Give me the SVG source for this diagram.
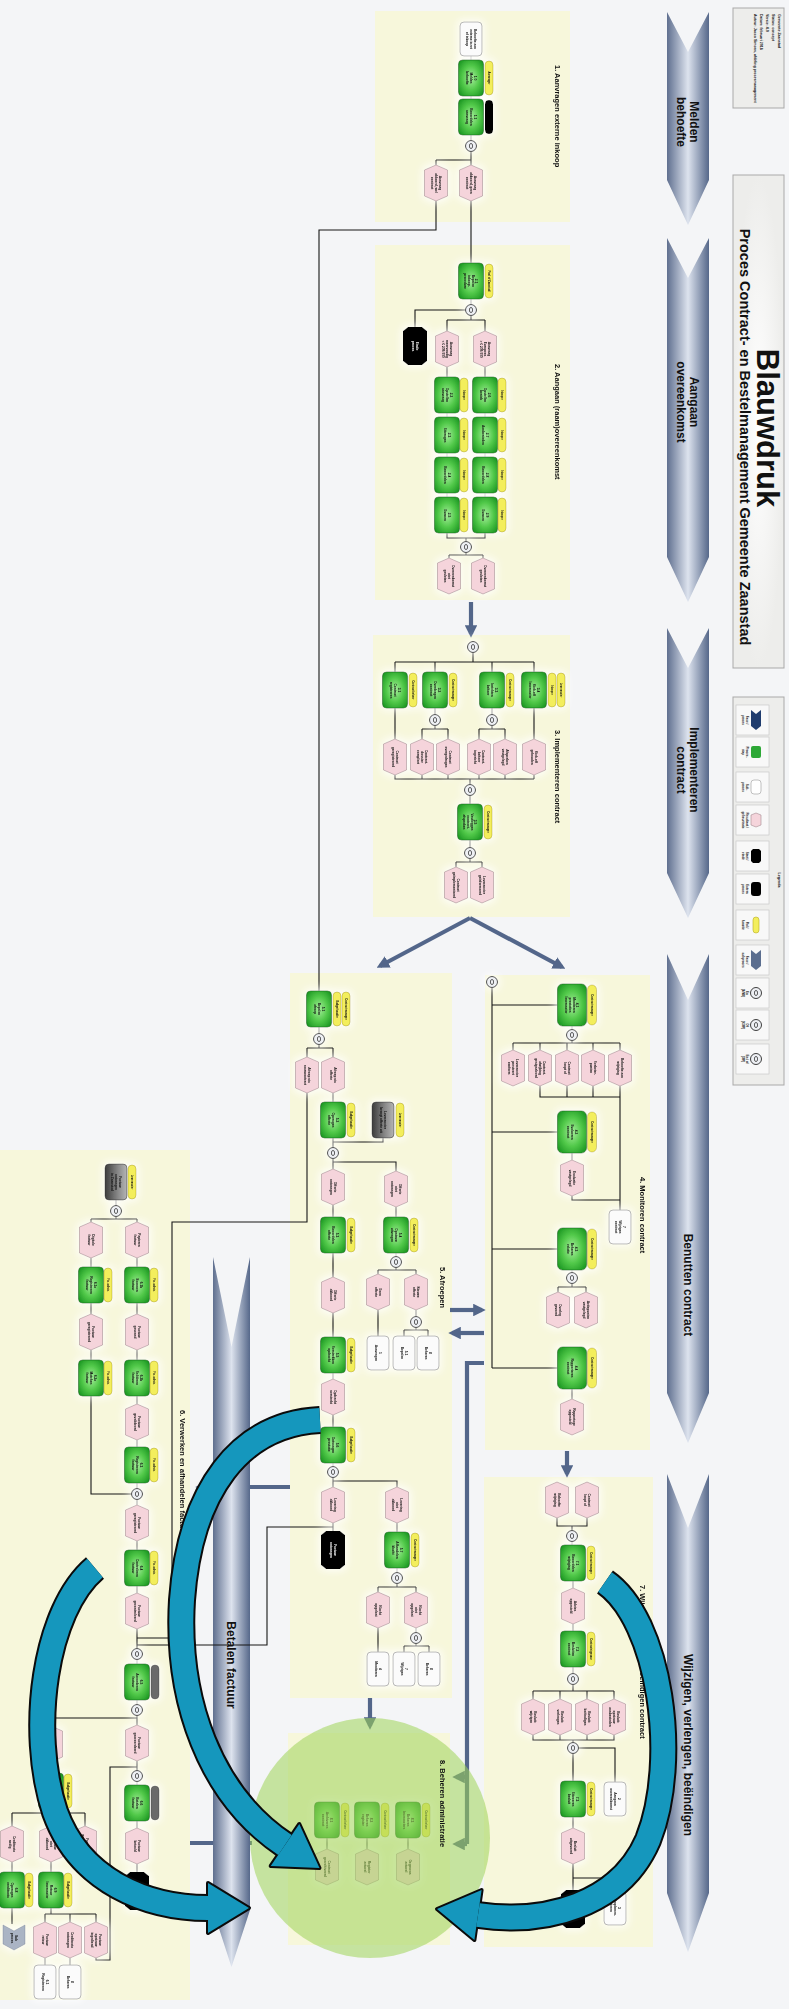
<svg xmlns="http://www.w3.org/2000/svg" width="789" height="2009" viewBox="0 0 789 2009">
<style>
.sec{fill:#f7f7db}
.g{fill:url(#grn);stroke:#1d7f22;stroke-width:.8}
.y{fill:#f3ee5c;stroke:#b9ad1e;stroke-width:.6}
.p{fill:#f5d4db;stroke:#a58a90;stroke-width:.6}
.w{fill:#fbfbfb;stroke:#888;stroke-width:.6}
.b{fill:#050505}
.c{fill:#eef0f4;stroke:#2a2a2a;stroke-width:.9}
.ln{fill:none;stroke:#161616;stroke-width:1.1}
.th{fill:none;stroke:#53668a;stroke-width:4.2}
.nt{font-family:'Liberation Sans',Arial,sans-serif;font-size:3.2px;font-weight:700;text-anchor:middle;fill:#111}
.rt{font-family:'Liberation Sans',Arial,sans-serif;font-size:2.6px;font-weight:700;text-anchor:middle;fill:#111}
.wt{fill:#fff}
.st{font-family:'Liberation Sans',Arial,sans-serif;font-size:7.5px;font-weight:700;fill:#111}
.ph{font-family:'Liberation Sans',Arial,sans-serif;font-size:12px;font-weight:700;text-anchor:middle;fill:#111}
.chev{fill:url(#chev)}
.box{fill:#ededeb;stroke:#a9a9a9;stroke-width:1}
.cell{fill:#f8f8f8;stroke:#c4c4c4;stroke-width:.6}
.lt{font-family:'Liberation Sans',Arial,sans-serif;font-size:3px;font-weight:700;text-anchor:middle;fill:#111}
.it{font-family:'Liberation Sans',Arial,sans-serif;font-size:3.6px;font-weight:700;fill:#111}
.tb{fill:none;stroke:#0b0b0b;stroke-width:28}
.tt{fill:none;stroke:#1597bd;stroke-width:24}
</style>
<defs>
<linearGradient id="chev" x1="0" y1="0" x2="1" y2="0"><stop offset="0" stop-color="#5f6f8f"/><stop offset=".5" stop-color="#dde3ee"/><stop offset="1" stop-color="#56688a"/></linearGradient>
<radialGradient id="grn" cx=".5" cy=".5" r=".62"><stop offset="0" stop-color="#a6ee9c"/><stop offset=".55" stop-color="#52c94a"/><stop offset="1" stop-color="#1f9a24"/></radialGradient>
<linearGradient id="gry" x1="0" y1="0" x2="1" y2="0"><stop offset="0" stop-color="#3c3c3c"/><stop offset=".6" stop-color="#8a8a8a"/><stop offset="1" stop-color="#b5b5b5"/></linearGradient>
<radialGradient id="tglow" cx=".5" cy=".5" r=".5"><stop offset="0" stop-color="#ffffff"/><stop offset="1" stop-color="#ededeb"/></radialGradient>
<filter id="glow" x="-3%" y="-2%" width="106%" height="104%">
<feMorphology in="SourceAlpha" operator="dilate" radius="2" result="d"/>
<feGaussianBlur in="d" stdDeviation="4" result="bl"/>
<feFlood flood-color="#ffffff" flood-opacity=".85"/>
<feComposite in2="bl" operator="in" result="gl"/>
<feMerge><feMergeNode in="gl"/><feMergeNode in="SourceGraphic"/></feMerge>
</filter>
<marker id="ah" viewBox="0 0 10 10" refX="7" refY="5" markerWidth="3" markerHeight="3" orient="auto"><path d="M0,0L10,5L0,10z" fill="#53668a"/></marker>
<rect id="G" x="-12.5" y="-18" width="25" height="36" rx="4" class="g"/>
<rect id="GL" x="-14.5" y="-21" width="29" height="42" rx="5" class="g"/>
<rect id="Y" x="-4" y="-17" width="8" height="34" rx="4" class="y"/>
<rect id="YL" x="-4.5" y="-20" width="9" height="40" rx="4.5" class="y"/>
<polygon id="P" points="-11.5,-13 0,-18 11.5,-13 11.5,13 0,18 -11.5,13" class="p"/>
<rect id="W" x="-11" y="-17" width="22" height="34" rx="4" class="w"/>
<polygon id="B" points="-12,-15 -7,-19 7,-19 12,-15 12,15 7,19 -7,19 -12,15" class="b"/>
<rect id="BP" x="-4" y="-17" width="8" height="34" rx="4" fill="#000"/>
<rect id="GR" x="-11" y="-18" width="22" height="36" rx="4" fill="url(#gry)" stroke="#333" stroke-width=".6"/>
<rect id="GP" x="-4" y="-17" width="8" height="34" rx="4" fill="#6b6b6b" stroke="#444" stroke-width=".5"/>
<g id="C"><circle r="5.5" class="c"/><ellipse rx="1.6" ry="2.6" fill="none" stroke="#222" stroke-width=".7"/></g>
</defs>

<rect width="789" height="2009" fill="#f4f5f7"/>

<g id="sections">
<rect class="sec" x="375" y="11" width="195" height="211"/>
<rect class="sec" x="375" y="245" width="195" height="355"/>
<rect class="sec" x="373" y="635" width="197" height="282"/>
<rect class="sec" x="485" y="975" width="165" height="475"/>
<rect class="sec" x="290" y="973" width="162" height="725"/>
<rect class="sec" x="0" y="1150" width="190" height="850"/>
<rect class="sec" x="484" y="1477" width="169" height="470"/>
<rect class="sec" x="288" y="1733" width="162" height="212"/>
</g>

<g id="info">
<rect class="box" x="733" y="8" width="51" height="100"/>
<text class="it" transform="translate(778 14) rotate(90)">Gemeente Zaanstad</text>
<text class="it" transform="translate(772 14) rotate(90)">Status: concept</text>
<text class="it" transform="translate(766 14) rotate(90)">Versie: 4.0</text>
<text class="it" transform="translate(760 14) rotate(90)">Datum: februari 2016</text>
<text class="it" transform="translate(754 14) rotate(90)">Auteur: Jacco Simons, afdeling procesmanagement</text>
</g>

<g id="title">
<rect x="733" y="175" width="51" height="493" fill="url(#tglow)" stroke="#a9a9a9" stroke-width="1"/>
<text transform="translate(757 428) rotate(90)" font-family="'Liberation Sans',Arial,sans-serif" font-size="31" font-weight="700" text-anchor="middle" fill="#111">Blauwdruk</text>
<text transform="translate(740 437) rotate(90)" font-family="'Liberation Sans',Arial,sans-serif" font-size="14.5" font-weight="700" text-anchor="middle" fill="#111">Proces Contract- en Bestelmanagement Gemeente Zaanstad</text>
</g>

<g id="legend">
<rect class="box" x="733" y="697" width="51" height="388"/>
<text class="lt" transform="translate(778 880) rotate(90)" style="font-size:3.6px">Legenda</text>
<rect class="cell" x="736" y="705" width="33" height="30"/><polygon points="751,710 756,714 761,710 761,726 756,730 751,726" fill="#1f3c6e"/><text class="lt" transform="translate(744 720) rotate(90)"><tspan x="0" y="-1.5">Fase /</tspan><tspan x="0" y="2.5">proces</tspan></text>
<rect class="cell" x="736" y="737" width="33" height="30"/><rect x="751" y="746" width="10" height="12" rx="2" fill="#2da836"/><text class="lt" transform="translate(744 752) rotate(90)"><tspan x="0" y="-1.5">Proces-</tspan><tspan x="0" y="2.5">stap</tspan></text>
<rect class="cell" x="736" y="772" width="33" height="30"/><rect x="751" y="780" width="10" height="14" rx="3" fill="#fff" stroke="#999" stroke-width=".6"/><text class="lt" transform="translate(744 787) rotate(90)"><tspan x="0" y="-1.5">Sub-</tspan><tspan x="0" y="2.5">proces</tspan></text>
<rect class="cell" x="736" y="805" width="33" height="30"/><polygon points="751,815 756,813 761,815 761,825 756,827 751,825" fill="#f5d4db" stroke="#a58a90" stroke-width=".6"/><text class="lt" transform="translate(744 820) rotate(90)"><tspan x="0" y="-1.5">Resultaat /</tspan><tspan x="0" y="2.5">gebeurtenis</tspan></text>
<rect class="cell" x="736" y="841" width="33" height="30"/><polygon points="751,851 753,849 759,849 761,851 761,861 759,863 753,863 751,861" fill="#000"/><text class="lt" transform="translate(744 856) rotate(90)"><tspan x="0" y="-1.5">Start /</tspan><tspan x="0" y="2.5">einde</tspan></text>
<rect class="cell" x="736" y="874" width="33" height="30"/><rect x="751" y="882" width="10" height="14" rx="3" fill="#000"/><text class="lt" transform="translate(744 889) rotate(90)"><tspan x="0" y="-1.5">Extern</tspan><tspan x="0" y="2.5">proces</tspan></text>
<rect class="cell" x="736" y="910" width="33" height="30"/><rect x="753" y="917" width="6" height="16" rx="3" class="y"/><text class="lt" transform="translate(744 925) rotate(90)"><tspan x="0" y="-1.5">Rol /</tspan><tspan x="0" y="2.5">functie</tspan></text>
<rect class="cell" x="736" y="945" width="33" height="30"/><polygon points="751,950 756,954 761,950 761,966 756,970 751,966" fill="#5b6e8f"/><text class="lt" transform="translate(744 960) rotate(90)"><tspan x="0" y="-1.5">Fase /</tspan><tspan x="0" y="2.5">subproces</tspan></text>
<rect class="cell" x="736" y="978" width="33" height="30"/><use href="#C" x="756" y="993"/><text class="lt" transform="translate(744 993) rotate(90)"><tspan x="0" y="-1.5">En</tspan><tspan x="0" y="2.5">(AND)</tspan></text>
<rect class="cell" x="736" y="1010" width="33" height="30"/><use href="#C" x="756" y="1025"/><text class="lt" transform="translate(744 1025) rotate(90)"><tspan x="0" y="-1.5">Of</tspan><tspan x="0" y="2.5">(XOR)</tspan></text>
<rect class="cell" x="736" y="1044" width="33" height="30"/><use href="#C" x="756" y="1059"/><text class="lt" transform="translate(744 1059) rotate(90)"><tspan x="0" y="-1.5">En / of</tspan><tspan x="0" y="2.5">(OR)</tspan></text>
</g>

<g id="phases">
<g id="ph1"><polygon class="chev" points="667,12 688,52 709,12 709,180 688,225 667,180"/><text class="ph" transform="translate(688 122) rotate(90)"><tspan x="0" y="-2">Melden</tspan><tspan x="0" y="11">behoefte</tspan></text></g>
<g id="ph2"><polygon class="chev" points="667,238 688,278 709,238 709,557 688,602 667,557"/><text class="ph" transform="translate(688 402) rotate(90)"><tspan x="0" y="-2">Aangaan</tspan><tspan x="0" y="11">overeenkomst</tspan></text></g>
<g id="ph3"><polygon class="chev" points="667,628 688,668 709,628 709,873 688,918 667,873"/><text class="ph" transform="translate(688 770) rotate(90)"><tspan x="0" y="-2">Implementeren</tspan><tspan x="0" y="11">contract</tspan></text></g>
<g id="ph4"><polygon class="chev" points="667,954 688,1000 709,954 709,1393 688,1443 667,1393"/><text class="ph" transform="translate(688 1285) rotate(90)" y="4.5">Benutten contract</text></g>
<g id="ph5"><polygon class="chev" points="667,1474 688,1528 709,1474 709,1893 688,1952 667,1893"/><text class="ph" transform="translate(688 1745) rotate(90)" y="4.5">Wijzigen, verlengen, beëindigen</text></g>
</g>

<g id="thick-connectors" class="th">
<path d="M471,602V634" marker-end="url(#ah)"/>
<path d="M470,918L380,966" marker-end="url(#ah)"/>
<path d="M470,918L562,967" marker-end="url(#ah)"/>
<path d="M567,1451V1474" marker-end="url(#ah)"/>
<path d="M450,1310H482" marker-end="url(#ah)"/>
<path d="M484,1333H452" marker-end="url(#ah)"/>
<path d="M484,1363H467V1844"/>
<path d="M467,1777H456" marker-end="url(#ah)"/>
<path d="M467,1844H456" marker-end="url(#ah)"/>
<path d="M370,1698V1726" marker-end="url(#ah)"/>
<path d="M290,1487H199" marker-end="url(#ah)"/>
<path d="M190,1843H252"/>
</g>

<g id="ph6"><polygon class="chev" points="213,1257 231.5,1347 250,1257 250,1910 231.5,1967 213,1910"/><text class="ph" transform="translate(231.5 1665) rotate(90)" y="4.5">Betalen factuur</text></g>

<g id="connectors" class="ln">
<path d="M471,56V60M471,96V99M471,135V140.5M471,151.5V160M436,160H471M436,160V165M471,160V165M471,201V263M436,201V230H319V991"/>
<path d="M471,299V304.5M465.5,310H415V327M471,315.5V320M447,320H485M447,320V331M485,320V331M447,367V377M447,413V417M447,453V457M447,493V497M485,367V377M485,413V417M485,453V457M485,493V497M447,533V538H485V533M466,538V541.5M466,552.5V555M449,555H483M449,555V558M483,555V558"/>
<path d="M473,652.5V662M395,662H534M395,662V672M435,662V672M492,662V672M534,662V672M395,708V739M435,708V714.5M435,725.5V729M422,729H448M422,729V739M448,729V739M492,708V714.5M492,725.5V729M479,729H505M479,729V739M505,729V739M534,708V739M395,775V779H534M422,775V779M448,775V779M479,775V779M505,775V779M534,775V779M470,779V784.5M470,795.5V804M470,840V847.5M470,858.5V862M456,862H482M456,862V867M482,862V867"/>
<path d="M492,987.5V1368M492,1005H557.5M492,1132H557.5M492,1249H557.5M492,1368H557.5M572,1026V1029.5M572,1040.5V1043M513,1043H620M513,1043V1050M540,1043V1050M567,1043V1050M593,1043V1050M620,1043V1050M540,1086V1097H620M567,1086V1097M593,1086V1097M620,1086V1210M572,1153V1160M572,1196V1200H620M572,1270V1272.5M572,1283.5V1287M558,1287H586M558,1287V1292M586,1287V1292M572,1389V1399"/>
<path d="M319,1027V1033.5M319,1044.5V1048M307,1048H333M307,1048V1057M333,1048V1057M307,1093V1222H172V1638H137M333,1093V1102M383,1138V1142H333M333,1138V1147.5M333,1158.5V1162H396V1171M333,1162V1169M333,1205V1217M396,1207V1217M396,1253V1256.5M396,1267.5V1270M378,1270H416M378,1270V1274M416,1270V1274M378,1310V1336M416,1310V1316.5M416,1327.5V1330M404,1330H428M404,1330V1336M428,1330V1336M333,1253V1277M333,1313V1337M333,1373V1379M333,1415V1427M333,1463V1466.5M333,1477.5V1481H397V1487M333,1481V1487M333,1523V1532M333,1527H267V1645H137M397,1523V1532M397,1568V1572.5M397,1583.5V1587M378,1587H416M378,1587V1592M416,1587V1592M378,1628V1652M416,1628V1632.5M416,1643.5V1646M404,1646H429M404,1646V1652M429,1646V1652"/>
<path d="M116,1200V1205.5M116,1216.5V1219M91,1219H137M91,1219V1222M137,1219V1222M91,1258V1267M91,1303V1314M91,1350V1360M91,1396V1494H131.5M137,1258V1267M137,1303V1314M137,1350V1360M137,1396V1404M137,1440V1447M137,1483V1488.5M137,1499.5V1505M137,1541V1550M137,1586V1593M137,1629V1648.5M137,1659.5V1664M137,1700V1704.5M137,1715.5V1725M137,1761V1770.5M137,1781.5V1785M137,1821V1828M137,1864V1872M137,1718H51V1726M51,1762V1773M51,1809V1813M12,1813H85M12,1813V1826M51,1813V1826M85,1813V1826M137,1767H110V1960H96V1958M85,1862V1868H110M12,1862V1872M12,1908V1924M51,1862V1872M51,1908V1914M45,1914H96M45,1914V1922M70,1914V1922M96,1914V1922M45,1958V1965M70,1958V1965"/>
<path d="M557,1518V1526H587V1518M572,1526V1530.5M572,1541.5V1545M573,1581V1588M573,1624V1631M573,1667V1673.5M573,1684.5V1691M533,1691H614M533,1691V1699M560,1691V1699M587,1691V1699M614,1691V1699M533,1735V1740H614V1735M560,1735V1740M587,1735V1740M573,1740V1742.5M573,1753.5V1781M578.5,1748H615V1782M573,1817V1828M573,1864V1890M573,1878H615V1891"/>
<path d="M327,1838V1849M367,1838V1849M408,1838V1849"/>
</g>

<g id="nodes" filter="url(#glow)">
<g id="n1-start"><use href="#W" x="471" y="39"/><text class="nt" transform="translate(471 39) rotate(90)"><tspan x="0" y="-2.5">Behoefte aan</tspan><tspan x="0" y="1.3">externe inzet</tspan><tspan x="0" y="5.1">of inkoop</tspan></text></g>
<g id="n1-0"><use href="#G" x="471" y="78"/><text class="nt" transform="translate(471 78) rotate(90)"><tspan x="0" y="-2.5">1.0</tspan><tspan x="0" y="1.3">Melden</tspan><tspan x="0" y="5.1">behoefte</tspan></text></g>
<g id="r1-0"><use href="#Y" x="489" y="78"/><text class="rt" transform="translate(489 78) rotate(90)" y="1">Aanvrager</text></g>
<g id="n1-1"><use href="#G" x="471" y="117"/><text class="nt" transform="translate(471 117) rotate(90)"><tspan x="0" y="-2.5">1.1</tspan><tspan x="0" y="1.3">Beoordelen</tspan><tspan x="0" y="5.1">aanvraag</tspan></text></g>
<g id="r1-1"><use href="#BP" x="489" y="117"/></g>
<g id="c1-1"><use href="#C" x="471" y="146"/></g>
<g id="n1-p1"><use href="#P" x="471" y="183"/><text class="nt" transform="translate(471 183) rotate(90)"><tspan x="0" y="-2.5">Aanvraag</tspan><tspan x="0" y="1.3">akkoord, geen</tspan><tspan x="0" y="5.1">contract</tspan></text></g>
<g id="n1-p2"><use href="#P" x="436" y="183"/><text class="nt" transform="translate(436 183) rotate(90)"><tspan x="0" y="-2.5">Aanvraag</tspan><tspan x="0" y="1.3">akkoord, wel</tspan><tspan x="0" y="5.1">contract</tspan></text></g>
<g id="n2-1"><use href="#G" x="471" y="281"/><text class="nt" transform="translate(471 281) rotate(90)"><tspan x="0" y="-4.4">2.1</tspan><tspan x="0" y="-0.6">Bepalen</tspan><tspan x="0" y="3.2">inkoop-</tspan><tspan x="0" y="7">procedure</tspan></text></g>
<g id="r2-1"><use href="#Y" x="489" y="281"/><text class="rt" transform="translate(489 281) rotate(90)" y="1">Pool of Zaanstad</text></g>
<g id="c2-1"><use href="#C" x="471" y="310"/></g>
<g id="n2-end"><use href="#B" x="415" y="346"/><text class="nt wt" transform="translate(415 346) rotate(90)"><tspan x="0" y="-0.6">Einde</tspan><tspan x="0" y="3.2">proces</tspan></text></g>
<g id="n2-p1"><use href="#P" x="447" y="349"/><text class="nt" transform="translate(447 349) rotate(90)"><tspan x="0" y="-2.5">Aanvraag</tspan><tspan x="0" y="1.3">meervoudig</tspan><tspan x="0" y="5.1">&lt; € 209.000</tspan></text></g>
<g id="n2-p2"><use href="#P" x="485" y="349"/><text class="nt" transform="translate(485 349) rotate(90)"><tspan x="0" y="-2.5">Aanvraag</tspan><tspan x="0" y="1.3">Europees</tspan><tspan x="0" y="5.1">&gt; € 209.000</tspan></text></g>
<g id="n2-2"><use href="#G" x="447" y="395"/><text class="nt" transform="translate(447 395) rotate(90)"><tspan x="0" y="-2.5">2.2</tspan><tspan x="0" y="1.3">Opstellen</tspan><tspan x="0" y="5.1">aanvraag</tspan></text></g>
<g id="r2-2"><use href="#Y" x="464" y="395"/><text class="rt" transform="translate(464 395) rotate(90)" y="1">Inkoper</text></g>
<g id="n2-3"><use href="#G" x="447" y="435"/><text class="nt" transform="translate(447 435) rotate(90)"><tspan x="0" y="-0.6">2.3</tspan><tspan x="0" y="3.2">Uitvragen</tspan></text></g>
<g id="r2-3"><use href="#Y" x="464" y="435"/><text class="rt" transform="translate(464 435) rotate(90)" y="1">Inkoper</text></g>
<g id="n2-4"><use href="#G" x="447" y="475"/><text class="nt" transform="translate(447 475) rotate(90)"><tspan x="0" y="-0.6">2.4</tspan><tspan x="0" y="3.2">Beoordelen</tspan></text></g>
<g id="r2-4"><use href="#Y" x="464" y="475"/><text class="rt" transform="translate(464 475) rotate(90)" y="1">Inkoper</text></g>
<g id="n2-5"><use href="#G" x="447" y="515"/><text class="nt" transform="translate(447 515) rotate(90)"><tspan x="0" y="-0.6">2.5</tspan><tspan x="0" y="3.2">Gunnen</tspan></text></g>
<g id="r2-5"><use href="#Y" x="464" y="515"/><text class="rt" transform="translate(464 515) rotate(90)" y="1">Inkoper</text></g>
<g id="n2-6"><use href="#G" x="485" y="395"/><text class="nt" transform="translate(485 395) rotate(90)"><tspan x="0" y="-2.5">2.6</tspan><tspan x="0" y="1.3">Opstellen</tspan><tspan x="0" y="5.1">bestek</tspan></text></g>
<g id="r2-6"><use href="#Y" x="502" y="395"/><text class="rt" transform="translate(502 395) rotate(90)" y="1">Inkoper</text></g>
<g id="n2-7"><use href="#G" x="485" y="435"/><text class="nt" transform="translate(485 435) rotate(90)"><tspan x="0" y="-0.6">2.7</tspan><tspan x="0" y="3.2">Aanbesteden</tspan></text></g>
<g id="r2-7"><use href="#Y" x="502" y="435"/><text class="rt" transform="translate(502 435) rotate(90)" y="1">Inkoper</text></g>
<g id="n2-8"><use href="#G" x="485" y="475"/><text class="nt" transform="translate(485 475) rotate(90)"><tspan x="0" y="-0.6">2.8</tspan><tspan x="0" y="3.2">Beoordelen</tspan></text></g>
<g id="r2-8"><use href="#Y" x="502" y="475"/><text class="rt" transform="translate(502 475) rotate(90)" y="1">Inkoper</text></g>
<g id="n2-9"><use href="#G" x="485" y="515"/><text class="nt" transform="translate(485 515) rotate(90)"><tspan x="0" y="-0.6">2.9</tspan><tspan x="0" y="3.2">Gunnen</tspan></text></g>
<g id="r2-9"><use href="#Y" x="502" y="515"/><text class="rt" transform="translate(502 515) rotate(90)" y="1">Inkoper</text></g>
<g id="c2-2"><use href="#C" x="466" y="547"/></g>
<g id="n2-p3"><use href="#P" x="449" y="576"/><text class="nt" transform="translate(449 576) rotate(90)"><tspan x="0" y="-2.5">Overeenkomst</tspan><tspan x="0" y="1.3">niet</tspan><tspan x="0" y="5.1">gesloten</tspan></text></g>
<g id="n2-p4"><use href="#P" x="483" y="576"/><text class="nt" transform="translate(483 576) rotate(90)"><tspan x="0" y="-0.6">Overeenkomst</tspan><tspan x="0" y="3.2">gesloten</tspan></text></g>
<g id="c3-1"><use href="#C" x="473" y="647"/></g>
<g id="n3-1"><use href="#G" x="395" y="690"/><text class="nt" transform="translate(395 690) rotate(90)"><tspan x="0" y="-2.5">3.1</tspan><tspan x="0" y="1.3">Contract</tspan><tspan x="0" y="5.1">registreren</tspan></text></g>
<g id="r3-1"><use href="#Y" x="413" y="690"/><text class="rt" transform="translate(413 690) rotate(90)" y="1">Contractbeheer</text></g>
<g id="n3-2"><use href="#G" x="435" y="690"/><text class="nt" transform="translate(435 690) rotate(90)"><tspan x="0" y="-2.5">3.2</tspan><tspan x="0" y="1.3">Overdragen</tspan><tspan x="0" y="5.1">contract</tspan></text></g>
<g id="r3-2"><use href="#Y" x="453" y="690"/><text class="rt" transform="translate(453 690) rotate(90)" y="1">Contractmanager</text></g>
<g id="n3-3"><use href="#G" x="492" y="690"/><text class="nt" transform="translate(492 690) rotate(90)"><tspan x="0" y="-2.5">3.3</tspan><tspan x="0" y="1.3">Inrichten</tspan><tspan x="0" y="5.1">beheer</tspan></text></g>
<g id="r3-3"><use href="#Y" x="510" y="690"/><text class="rt" transform="translate(510 690) rotate(90)" y="1">Contractmanager</text></g>
<g id="n3-4"><use href="#G" x="534" y="690"/><text class="nt" transform="translate(534 690) rotate(90)"><tspan x="0" y="-2.5">3.4</tspan><tspan x="0" y="1.3">Kick-off</tspan><tspan x="0" y="5.1">leverancier</tspan></text></g>
<g id="r3-4"><use href="#Y" x="552" y="690"/><text class="rt" transform="translate(552 690) rotate(90)" y="1">Inkoper</text></g>
<g id="r3-4b"><use href="#Y" x="561" y="690"/><text class="rt" transform="translate(561 690) rotate(90)" y="1">Leverancier</text></g>
<g id="c3-2"><use href="#C" x="435" y="720"/></g>
<g id="c3-3"><use href="#C" x="492" y="720"/></g>
<g id="n3-p1"><use href="#P" x="395" y="757"/><text class="nt" transform="translate(395 757) rotate(90)"><tspan x="0" y="-0.6">Contract</tspan><tspan x="0" y="3.2">geregistreerd</tspan></text></g>
<g id="n3-p2"><use href="#P" x="422" y="757"/><text class="nt" transform="translate(422 757) rotate(90)"><tspan x="0" y="-2.5">Contract-</tspan><tspan x="0" y="1.3">dossier</tspan><tspan x="0" y="5.1">compleet</tspan></text></g>
<g id="n3-p3"><use href="#P" x="448" y="757"/><text class="nt" transform="translate(448 757) rotate(90)"><tspan x="0" y="-0.6">Contract</tspan><tspan x="0" y="3.2">overgedragen</tspan></text></g>
<g id="n3-p4"><use href="#P" x="479" y="757"/><text class="nt" transform="translate(479 757) rotate(90)"><tspan x="0" y="-2.5">Contract-</tspan><tspan x="0" y="1.3">beheer</tspan><tspan x="0" y="5.1">ingericht</tspan></text></g>
<g id="n3-p5"><use href="#P" x="505" y="757"/><text class="nt" transform="translate(505 757) rotate(90)"><tspan x="0" y="-0.6">Afspraken</tspan><tspan x="0" y="3.2">vastgelegd</tspan></text></g>
<g id="n3-p6"><use href="#P" x="534" y="757"/><text class="nt" transform="translate(534 757) rotate(90)"><tspan x="0" y="-0.6">Kick-off</tspan><tspan x="0" y="3.2">gehouden</tspan></text></g>
<g id="c3-4"><use href="#C" x="470" y="790"/></g>
<g id="n3-5"><use href="#G" x="470" y="822"/><text class="nt" transform="translate(470 822) rotate(90)"><tspan x="0" y="-4.4">3.5</tspan><tspan x="0" y="-0.6">Vastleggen</tspan><tspan x="0" y="3.2">contract-</tspan><tspan x="0" y="7">afspraken</tspan></text></g>
<g id="r3-5"><use href="#Y" x="488" y="822"/><text class="rt" transform="translate(488 822) rotate(90)" y="1">Contractmanager</text></g>
<g id="c3-5"><use href="#C" x="470" y="853"/></g>
<g id="n3-p7"><use href="#P" x="456" y="885"/><text class="nt" transform="translate(456 885) rotate(90)"><tspan x="0" y="-0.6">Contract</tspan><tspan x="0" y="3.2">geïmplementeerd</tspan></text></g>
<g id="n3-p8"><use href="#P" x="482" y="885"/><text class="nt" transform="translate(482 885) rotate(90)"><tspan x="0" y="-0.6">Leverancier</tspan><tspan x="0" y="3.2">geïnformeerd</tspan></text></g>
<g id="c4-0"><use href="#C" x="492" y="982"/></g>
<g id="n4-1"><use href="#GL" x="572" y="1005"/><text class="nt" transform="translate(572 1005) rotate(90)"><tspan x="0" y="-4.4">4.1</tspan><tspan x="0" y="-0.6">Monitoren</tspan><tspan x="0" y="3.2">prestaties</tspan><tspan x="0" y="7">leverancier</tspan></text></g>
<g id="r4-1"><use href="#YL" x="592" y="1005"/><text class="rt" transform="translate(592 1005) rotate(90)" y="1">Contractmanager</text></g>
<g id="c4-1"><use href="#C" x="572" y="1035"/></g>
<g id="n4-p1"><use href="#P" x="513" y="1068"/><text class="nt" transform="translate(513 1068) rotate(90)"><tspan x="0" y="-2.5">Leverancier</tspan><tspan x="0" y="1.3">presteert</tspan><tspan x="0" y="5.1">conform</tspan></text></g>
<g id="n4-p2"><use href="#P" x="540" y="1068"/><text class="nt" transform="translate(540 1068) rotate(90)"><tspan x="0" y="-2.5">Contract-</tspan><tspan x="0" y="1.3">afwijking</tspan><tspan x="0" y="5.1">gesignaleerd</tspan></text></g>
<g id="n4-p3"><use href="#P" x="567" y="1068"/><text class="nt" transform="translate(567 1068) rotate(90)"><tspan x="0" y="-0.6">Contract</tspan><tspan x="0" y="3.2">loopt af</tspan></text></g>
<g id="n4-p4"><use href="#P" x="593" y="1068"/><text class="nt" transform="translate(593 1068) rotate(90)"><tspan x="0" y="-0.6">Verbeter-</tspan><tspan x="0" y="3.2">punten</tspan></text></g>
<g id="n4-p5"><use href="#P" x="620" y="1068"/><text class="nt" transform="translate(620 1068) rotate(90)"><tspan x="0" y="-0.6">Behoefte aan</tspan><tspan x="0" y="3.2">wijziging</tspan></text></g>
<g id="n4-2"><use href="#GL" x="572" y="1132"/><text class="nt" transform="translate(572 1132) rotate(90)"><tspan x="0" y="-2.5">4.2</tspan><tspan x="0" y="1.3">Evalueren</tspan><tspan x="0" y="5.1">contract</tspan></text></g>
<g id="r4-2"><use href="#YL" x="592" y="1132"/><text class="rt" transform="translate(592 1132) rotate(90)" y="1">Contractmanager</text></g>
<g id="n4-p6"><use href="#P" x="572" y="1178"/><text class="nt" transform="translate(572 1178) rotate(90)"><tspan x="0" y="-0.6">Evaluatie</tspan><tspan x="0" y="3.2">vastgelegd</tspan></text></g>
<g id="n4-s7"><use href="#W" x="620" y="1227"/><text class="nt" transform="translate(620 1227) rotate(90)"><tspan x="0" y="-2.5">7</tspan><tspan x="0" y="1.3">Wijzigen</tspan><tspan x="0" y="5.1">contract</tspan></text></g>
<g id="n4-3"><use href="#GL" x="572" y="1249"/><text class="nt" transform="translate(572 1249) rotate(90)"><tspan x="0" y="-2.5">4.3</tspan><tspan x="0" y="1.3">Beheren</tspan><tspan x="0" y="5.1">relatie</tspan></text></g>
<g id="r4-3"><use href="#YL" x="592" y="1249"/><text class="rt" transform="translate(592 1249) rotate(90)" y="1">Contractmanager</text></g>
<g id="c4-3"><use href="#C" x="572" y="1278"/></g>
<g id="n4-p7"><use href="#P" x="558" y="1310"/><text class="nt" transform="translate(558 1310) rotate(90)"><tspan x="0" y="-0.6">Overleg</tspan><tspan x="0" y="3.2">gevoerd</tspan></text></g>
<g id="n4-p8"><use href="#P" x="586" y="1310"/><text class="nt" transform="translate(586 1310) rotate(90)"><tspan x="0" y="-0.6">Actiepunten</tspan><tspan x="0" y="3.2">vastgelegd</tspan></text></g>
<g id="n4-4"><use href="#GL" x="572" y="1368"/><text class="nt" transform="translate(572 1368) rotate(90)"><tspan x="0" y="-2.5">4.4</tspan><tspan x="0" y="1.3">Rapporteren</tspan><tspan x="0" y="5.1">contract</tspan></text></g>
<g id="r4-4"><use href="#YL" x="592" y="1368"/><text class="rt" transform="translate(592 1368) rotate(90)" y="1">Contractmanager</text></g>
<g id="n4-p9"><use href="#P" x="572" y="1417"/><text class="nt" transform="translate(572 1417) rotate(90)"><tspan x="0" y="-0.6">Rapportage</tspan><tspan x="0" y="3.2">opgesteld</tspan></text></g>
<g id="n5-1"><use href="#G" x="319" y="1009"/><text class="nt" transform="translate(319 1009) rotate(90)"><tspan x="0" y="-2.5">5.1</tspan><tspan x="0" y="1.3">Bepalen</tspan><tspan x="0" y="5.1">afroep</tspan></text></g>
<g id="r5-1"><use href="#Y" x="337" y="1009"/><text class="rt" transform="translate(337 1009) rotate(90)" y="1">Budgethouder</text></g>
<g id="r5-1b"><use href="#Y" x="346" y="1009"/><text class="rt" transform="translate(346 1009) rotate(90)" y="1">Contractmanager</text></g>
<g id="c5-1"><use href="#C" x="319" y="1039"/></g>
<g id="n5-p1"><use href="#P" x="307" y="1075"/><text class="nt" transform="translate(307 1075) rotate(90)"><tspan x="0" y="-0.6">Afroep via</tspan><tspan x="0" y="3.2">raamcontract</tspan></text></g>
<g id="n5-p2"><use href="#P" x="333" y="1075"/><text class="nt" transform="translate(333 1075) rotate(90)"><tspan x="0" y="-0.6">Afroep via</tspan><tspan x="0" y="3.2">offerte</tspan></text></g>
<g id="n5-2"><use href="#G" x="333" y="1120"/><text class="nt" transform="translate(333 1120) rotate(90)"><tspan x="0" y="-2.5">5.2</tspan><tspan x="0" y="1.3">Opvragen</tspan><tspan x="0" y="5.1">offerte</tspan></text></g>
<g id="r5-2"><use href="#Y" x="351" y="1120"/><text class="rt" transform="translate(351 1120) rotate(90)" y="1">Budgethouder</text></g>
<g id="n5-lev"><use href="#GR" x="383" y="1120"/><text class="nt" transform="translate(383 1120) rotate(90)"><tspan x="0" y="-0.6">Leverancier</tspan><tspan x="0" y="3.2">brengt offerte uit</tspan></text></g>
<g id="r5-lev"><use href="#Y" x="400" y="1120"/><text class="rt" transform="translate(400 1120) rotate(90)" y="1">Leverancier</text></g>
<g id="c5-2"><use href="#C" x="333" y="1153"/></g>
<g id="n5-p3"><use href="#P" x="333" y="1187"/><text class="nt" transform="translate(333 1187) rotate(90)"><tspan x="0" y="-0.6">Offerte</tspan><tspan x="0" y="3.2">ontvangen</tspan></text></g>
<g id="n5-p4"><use href="#P" x="396" y="1189"/><text class="nt" transform="translate(396 1189) rotate(90)"><tspan x="0" y="-2.5">Offerte</tspan><tspan x="0" y="1.3">niet</tspan><tspan x="0" y="5.1">ontvangen</tspan></text></g>
<g id="n5-3"><use href="#G" x="333" y="1235"/><text class="nt" transform="translate(333 1235) rotate(90)"><tspan x="0" y="-2.5">5.3</tspan><tspan x="0" y="1.3">Beoordelen</tspan><tspan x="0" y="5.1">offerte</tspan></text></g>
<g id="r5-3"><use href="#Y" x="351" y="1235"/><text class="rt" transform="translate(351 1235) rotate(90)" y="1">Budgethouder</text></g>
<g id="n5-4"><use href="#G" x="396" y="1235"/><text class="nt" transform="translate(396 1235) rotate(90)"><tspan x="0" y="-2.5">5.4</tspan><tspan x="0" y="1.3">Opnieuw</tspan><tspan x="0" y="5.1">uitvragen</tspan></text></g>
<g id="r5-4"><use href="#Y" x="414" y="1235"/><text class="rt" transform="translate(414 1235) rotate(90)" y="1">Contractmanager</text></g>
<g id="c5-4"><use href="#C" x="396" y="1262"/></g>
<g id="n5-p5"><use href="#P" x="378" y="1292"/><text class="nt" transform="translate(378 1292) rotate(90)"><tspan x="0" y="-0.6">Geen</tspan><tspan x="0" y="3.2">offerte</tspan></text></g>
<g id="n5-p6"><use href="#P" x="416" y="1292"/><text class="nt" transform="translate(416 1292) rotate(90)"><tspan x="0" y="-0.6">Nieuwe</tspan><tspan x="0" y="3.2">offerte</tspan></text></g>
<g id="c5-5"><use href="#C" x="416" y="1322"/></g>
<g id="n5-w1"><use href="#W" x="378" y="1353"/><text class="nt" transform="translate(378 1353) rotate(90)"><tspan x="0" y="-0.6">1</tspan><tspan x="0" y="3.2">Aanvragen</tspan></text></g>
<g id="n5-w2"><use href="#W" x="404" y="1353"/><text class="nt" transform="translate(404 1353) rotate(90)"><tspan x="0" y="-0.6">5.1</tspan><tspan x="0" y="3.2">Bepalen</tspan></text></g>
<g id="n5-w3"><use href="#W" x="428" y="1353"/><text class="nt" transform="translate(428 1353) rotate(90)"><tspan x="0" y="-0.6">8</tspan><tspan x="0" y="3.2">Beheren</tspan></text></g>
<g id="n5-p7"><use href="#P" x="333" y="1295"/><text class="nt" transform="translate(333 1295) rotate(90)"><tspan x="0" y="-0.6">Offerte</tspan><tspan x="0" y="3.2">akkoord</tspan></text></g>
<g id="n5-5"><use href="#G" x="333" y="1355"/><text class="nt" transform="translate(333 1355) rotate(90)"><tspan x="0" y="-2.5">5.5</tspan><tspan x="0" y="1.3">Verstrekken</tspan><tspan x="0" y="5.1">opdracht</tspan></text></g>
<g id="r5-5"><use href="#Y" x="351" y="1355"/><text class="rt" transform="translate(351 1355) rotate(90)" y="1">Budgethouder</text></g>
<g id="n5-p8"><use href="#P" x="333" y="1397"/><text class="nt" transform="translate(333 1397) rotate(90)"><tspan x="0" y="-0.6">Opdracht</tspan><tspan x="0" y="3.2">verstrekt</tspan></text></g>
<g id="n5-6"><use href="#G" x="333" y="1445"/><text class="nt" transform="translate(333 1445) rotate(90)"><tspan x="0" y="-2.5">5.6</tspan><tspan x="0" y="1.3">Ontvangen</tspan><tspan x="0" y="5.1">prestatie</tspan></text></g>
<g id="r5-6"><use href="#Y" x="351" y="1445"/><text class="rt" transform="translate(351 1445) rotate(90)" y="1">Budgethouder</text></g>
<g id="c5-6"><use href="#C" x="333" y="1472"/></g>
<g id="n5-p9"><use href="#P" x="333" y="1505"/><text class="nt" transform="translate(333 1505) rotate(90)"><tspan x="0" y="-0.6">Levering</tspan><tspan x="0" y="3.2">akkoord</tspan></text></g>
<g id="n5-p10"><use href="#P" x="397" y="1505"/><text class="nt" transform="translate(397 1505) rotate(90)"><tspan x="0" y="-2.5">Levering</tspan><tspan x="0" y="1.3">niet</tspan><tspan x="0" y="5.1">akkoord</tspan></text></g>
<g id="n5-end"><use href="#B" x="333" y="1550"/><text class="nt wt" transform="translate(333 1550) rotate(90)"><tspan x="0" y="-0.6">Factuur</tspan><tspan x="0" y="3.2">ontvangen</tspan></text></g>
<g id="n5-7"><use href="#G" x="397" y="1550"/><text class="nt" transform="translate(397 1550) rotate(90)"><tspan x="0" y="-2.5">5.7</tspan><tspan x="0" y="1.3">Afhandelen</tspan><tspan x="0" y="5.1">klacht</tspan></text></g>
<g id="r5-7"><use href="#Y" x="415" y="1550"/><text class="rt" transform="translate(415 1550) rotate(90)" y="1">Contractmanager</text></g>
<g id="c5-7"><use href="#C" x="397" y="1578"/></g>
<g id="n5-p11"><use href="#P" x="378" y="1610"/><text class="nt" transform="translate(378 1610) rotate(90)"><tspan x="0" y="-0.6">Klacht</tspan><tspan x="0" y="3.2">opgelost</tspan></text></g>
<g id="n5-p12"><use href="#P" x="416" y="1610"/><text class="nt" transform="translate(416 1610) rotate(90)"><tspan x="0" y="-2.5">Klacht</tspan><tspan x="0" y="1.3">niet</tspan><tspan x="0" y="5.1">opgelost</tspan></text></g>
<g id="c5-8"><use href="#C" x="416" y="1638"/></g>
<g id="n5-w4"><use href="#W" x="378" y="1669"/><text class="nt" transform="translate(378 1669) rotate(90)"><tspan x="0" y="-0.6">4</tspan><tspan x="0" y="3.2">Monitoren</tspan></text></g>
<g id="n5-w5"><use href="#W" x="404" y="1669"/><text class="nt" transform="translate(404 1669) rotate(90)"><tspan x="0" y="-0.6">7</tspan><tspan x="0" y="3.2">Wijzigen</tspan></text></g>
<g id="n5-w6"><use href="#W" x="429" y="1669"/><text class="nt" transform="translate(429 1669) rotate(90)"><tspan x="0" y="-0.6">8</tspan><tspan x="0" y="3.2">Beheren</tspan></text></g>
<g id="n6-lev"><use href="#GR" x="116" y="1182"/><text class="nt" transform="translate(116 1182) rotate(90)"><tspan x="0" y="-2.5">Factuur</tspan><tspan x="0" y="1.3">ontvangen</tspan><tspan x="0" y="5.1">in Zaanstad</tspan></text></g>
<g id="r6-lev"><use href="#Y" x="132" y="1182"/><text class="rt" transform="translate(132 1182) rotate(90)" y="1">Leverancier</text></g>
<g id="c6-1"><use href="#C" x="116" y="1211"/></g>
<g id="n6-p1"><use href="#P" x="91" y="1240"/><text class="nt" transform="translate(91 1240) rotate(90)"><tspan x="0" y="-0.6">Digitale</tspan><tspan x="0" y="3.2">factuur</tspan></text></g>
<g id="n6-1a"><use href="#G" x="91" y="1285"/><text class="nt" transform="translate(91 1285) rotate(90)"><tspan x="0" y="-2.5">6.1a</tspan><tspan x="0" y="1.3">Registreren</tspan><tspan x="0" y="5.1">factuur</tspan></text></g>
<g id="r6-1a"><use href="#Y" x="108" y="1285"/><text class="rt" transform="translate(108 1285) rotate(90)" y="1">Fin. admin.</text></g>
<g id="n6-p2"><use href="#P" x="91" y="1332"/><text class="nt" transform="translate(91 1332) rotate(90)"><tspan x="0" y="-0.6">Factuur</tspan><tspan x="0" y="3.2">geregistreerd</tspan></text></g>
<g id="n6-2a"><use href="#G" x="91" y="1378"/><text class="nt" transform="translate(91 1378) rotate(90)"><tspan x="0" y="-2.5">6.2a</tspan><tspan x="0" y="1.3">Matchen</tspan><tspan x="0" y="5.1">factuur</tspan></text></g>
<g id="r6-2a"><use href="#Y" x="108" y="1378"/><text class="rt" transform="translate(108 1378) rotate(90)" y="1">Fin. admin.</text></g>
<g id="n6-p3"><use href="#P" x="137" y="1240"/><text class="nt" transform="translate(137 1240) rotate(90)"><tspan x="0" y="-0.6">Papieren</tspan><tspan x="0" y="3.2">factuur</tspan></text></g>
<g id="n6-1b"><use href="#G" x="137" y="1285"/><text class="nt" transform="translate(137 1285) rotate(90)"><tspan x="0" y="-2.5">6.1b</tspan><tspan x="0" y="1.3">Scannen</tspan><tspan x="0" y="5.1">factuur</tspan></text></g>
<g id="r6-1b"><use href="#Y" x="154" y="1285"/><text class="rt" transform="translate(154 1285) rotate(90)" y="1">Fin. admin.</text></g>
<g id="n6-p4"><use href="#P" x="137" y="1332"/><text class="nt" transform="translate(137 1332) rotate(90)"><tspan x="0" y="-0.6">Factuur</tspan><tspan x="0" y="3.2">gescand</tspan></text></g>
<g id="n6-2b"><use href="#G" x="137" y="1378"/><text class="nt" transform="translate(137 1378) rotate(90)"><tspan x="0" y="-2.5">6.2b</tspan><tspan x="0" y="1.3">Valideren</tspan><tspan x="0" y="5.1">factuur</tspan></text></g>
<g id="r6-2b"><use href="#Y" x="154" y="1378"/><text class="rt" transform="translate(154 1378) rotate(90)" y="1">Fin. admin.</text></g>
<g id="n6-p5"><use href="#P" x="137" y="1422"/><text class="nt" transform="translate(137 1422) rotate(90)"><tspan x="0" y="-0.6">Factuur</tspan><tspan x="0" y="3.2">gevalideerd</tspan></text></g>
<g id="n6-3"><use href="#G" x="137" y="1465"/><text class="nt" transform="translate(137 1465) rotate(90)"><tspan x="0" y="-2.5">6.3</tspan><tspan x="0" y="1.3">Registreren</tspan><tspan x="0" y="5.1">factuur</tspan></text></g>
<g id="r6-3"><use href="#Y" x="154" y="1465"/><text class="rt" transform="translate(154 1465) rotate(90)" y="1">Fin. admin.</text></g>
<g id="c6-2"><use href="#C" x="137" y="1494"/></g>
<g id="n6-p6"><use href="#P" x="137" y="1523"/><text class="nt" transform="translate(137 1523) rotate(90)"><tspan x="0" y="-0.6">Factuur</tspan><tspan x="0" y="3.2">geregistreerd</tspan></text></g>
<g id="n6-4"><use href="#G" x="137" y="1568"/><text class="nt" transform="translate(137 1568) rotate(90)"><tspan x="0" y="-2.5">6.4</tspan><tspan x="0" y="1.3">Controleren</tspan><tspan x="0" y="5.1">factuur</tspan></text></g>
<g id="r6-4"><use href="#Y" x="154" y="1568"/><text class="rt" transform="translate(154 1568) rotate(90)" y="1">Fin. admin.</text></g>
<g id="n6-p7"><use href="#P" x="137" y="1611"/><text class="nt" transform="translate(137 1611) rotate(90)"><tspan x="0" y="-0.6">Factuur</tspan><tspan x="0" y="3.2">gecontroleerd</tspan></text></g>
<g id="c6-3"><use href="#C" x="137" y="1654"/></g>
<g id="n6-5"><use href="#G" x="137" y="1682"/><text class="nt" transform="translate(137 1682) rotate(90)"><tspan x="0" y="-2.5">6.5</tspan><tspan x="0" y="1.3">Accorderen</tspan><tspan x="0" y="5.1">factuur</tspan></text></g>
<g id="r6-5"><use href="#GP" x="155" y="1682"/></g>
<g id="c6-4"><use href="#C" x="137" y="1710"/></g>
<g id="n6-p8"><use href="#P" x="137" y="1743"/><text class="nt" transform="translate(137 1743) rotate(90)"><tspan x="0" y="-0.6">Factuur</tspan><tspan x="0" y="3.2">geaccordeerd</tspan></text></g>
<g id="c6-5"><use href="#C" x="137" y="1776"/></g>
<g id="n6-6"><use href="#G" x="137" y="1803"/><text class="nt" transform="translate(137 1803) rotate(90)"><tspan x="0" y="-2.5">6.6</tspan><tspan x="0" y="1.3">Betalen</tspan><tspan x="0" y="5.1">factuur</tspan></text></g>
<g id="r6-6"><use href="#GP" x="155" y="1803"/></g>
<g id="n6-p9"><use href="#P" x="137" y="1846"/><text class="nt" transform="translate(137 1846) rotate(90)"><tspan x="0" y="-0.6">Factuur</tspan><tspan x="0" y="3.2">betaald</tspan></text></g>
<g id="n6-end"><use href="#B" x="137" y="1891"/><text class="nt wt" transform="translate(137 1891) rotate(90)"><tspan x="0" y="-0.6">Einde</tspan><tspan x="0" y="3.2">proces</tspan></text></g>
<g id="n6-p10"><use href="#P" x="51" y="1744"/><text class="nt" transform="translate(51 1744) rotate(90)"><tspan x="0" y="-0.6">Factuur</tspan><tspan x="0" y="3.2">afgekeurd</tspan></text></g>
<g id="n6-7"><use href="#G" x="51" y="1791"/><text class="nt" transform="translate(51 1791) rotate(90)"><tspan x="0" y="-2.5">6.7</tspan><tspan x="0" y="1.3">Afhandelen</tspan><tspan x="0" y="5.1">afwijking</tspan></text></g>
<g id="r6-7"><use href="#Y" x="68" y="1791"/><text class="rt" transform="translate(68 1791) rotate(90)" y="1">Budgethouder</text></g>
<g id="n6-p11"><use href="#P" x="12" y="1844"/><text class="nt" transform="translate(12 1844) rotate(90)"><tspan x="0" y="-0.6">Creditnota</tspan><tspan x="0" y="3.2">nodig</tspan></text></g>
<g id="n6-p12"><use href="#P" x="51" y="1844"/><text class="nt" transform="translate(51 1844) rotate(90)"><tspan x="0" y="-2.5">Factuur</tspan><tspan x="0" y="1.3">niet</tspan><tspan x="0" y="5.1">akkoord</tspan></text></g>
<g id="n6-p13"><use href="#P" x="85" y="1844"/><text class="nt" transform="translate(85 1844) rotate(90)"><tspan x="0" y="-0.6">Factuur</tspan><tspan x="0" y="3.2">gecorrigeerd</tspan></text></g>
<g id="n6-8"><use href="#G" x="12" y="1890"/><text class="nt" transform="translate(12 1890) rotate(90)"><tspan x="0" y="-2.5">6.8</tspan><tspan x="0" y="1.3">Opvragen</tspan><tspan x="0" y="5.1">creditnota</tspan></text></g>
<g id="r6-8"><use href="#Y" x="29" y="1890"/><text class="rt" transform="translate(29 1890) rotate(90)" y="1">Budgethouder</text></g>
<g id="n6-9"><use href="#G" x="51" y="1890"/><text class="nt" transform="translate(51 1890) rotate(90)"><tspan x="0" y="-2.5">6.9</tspan><tspan x="0" y="1.3">Retour</tspan><tspan x="0" y="5.1">leverancier</tspan></text></g>
<g id="r6-9"><use href="#Y" x="68" y="1890"/><text class="rt" transform="translate(68 1890) rotate(90)" y="1">Budgethouder</text></g>
<g id="n6-sub"><polygon points="3,1925 14,1931 25,1925 25,1944 14,1950 3,1944" fill="#aab4c4" stroke="#7a869a" stroke-width=".5"/><text class="nt" transform="translate(14 1938) rotate(90)"><tspan x="0" y="-0.6">Sub</tspan><tspan x="0" y="3.2">proces</tspan></text></g>
<g id="n6-p14"><use href="#P" x="45" y="1940"/><text class="nt" transform="translate(45 1940) rotate(90)"><tspan x="0" y="-0.6">Factuur</tspan><tspan x="0" y="3.2">retour</tspan></text></g>
<g id="n6-p15"><use href="#P" x="70" y="1940"/><text class="nt" transform="translate(70 1940) rotate(90)"><tspan x="0" y="-0.6">Creditnota</tspan><tspan x="0" y="3.2">ontvangen</tspan></text></g>
<g id="n6-p16"><use href="#P" x="96" y="1940"/><text class="nt" transform="translate(96 1940) rotate(90)"><tspan x="0" y="-2.5">Factuur</tspan><tspan x="0" y="1.3">opnieuw</tspan><tspan x="0" y="5.1">ingediend</tspan></text></g>
<g id="n6-w1"><use href="#W" x="45" y="1982"/><text class="nt" transform="translate(45 1982) rotate(90)"><tspan x="0" y="-0.6">6.1</tspan><tspan x="0" y="3.2">Registreren</tspan></text></g>
<g id="n6-w2"><use href="#W" x="70" y="1982"/><text class="nt" transform="translate(70 1982) rotate(90)"><tspan x="0" y="-0.6">8</tspan><tspan x="0" y="3.2">Beheren</tspan></text></g>
<g id="n7-p1"><use href="#P" x="557" y="1500"/><text class="nt" transform="translate(557 1500) rotate(90)"><tspan x="0" y="-0.6">Behoefte</tspan><tspan x="0" y="3.2">wijziging</tspan></text></g>
<g id="n7-p2"><use href="#P" x="587" y="1500"/><text class="nt" transform="translate(587 1500) rotate(90)"><tspan x="0" y="-0.6">Contract</tspan><tspan x="0" y="3.2">loopt af</tspan></text></g>
<g id="c7-1"><use href="#C" x="572" y="1536"/></g>
<g id="n7-1"><use href="#G" x="573" y="1563"/><text class="nt" transform="translate(573 1563) rotate(90)"><tspan x="0" y="-2.5">7.1</tspan><tspan x="0" y="1.3">Beoordelen</tspan><tspan x="0" y="5.1">wijziging</tspan></text></g>
<g id="r7-1"><use href="#Y" x="591" y="1563"/><text class="rt" transform="translate(591 1563) rotate(90)" y="1">Contractmanager</text></g>
<g id="n7-p3"><use href="#P" x="573" y="1606"/><text class="nt" transform="translate(573 1606) rotate(90)"><tspan x="0" y="-0.6">Advies</tspan><tspan x="0" y="3.2">opgesteld</tspan></text></g>
<g id="n7-2"><use href="#G" x="573" y="1649"/><text class="nt" transform="translate(573 1649) rotate(90)"><tspan x="0" y="-2.5">7.2</tspan><tspan x="0" y="1.3">Besluiten</tspan><tspan x="0" y="5.1">contract</tspan></text></g>
<g id="r7-2"><use href="#Y" x="591" y="1649"/><text class="rt" transform="translate(591 1649) rotate(90)" y="1">Contracteigenaar</text></g>
<g id="c7-2"><use href="#C" x="573" y="1679"/></g>
<g id="n7-p4"><use href="#P" x="533" y="1717"/><text class="nt" transform="translate(533 1717) rotate(90)"><tspan x="0" y="-0.6">Besluit:</tspan><tspan x="0" y="3.2">wijzigen</tspan></text></g>
<g id="n7-p5"><use href="#P" x="560" y="1717"/><text class="nt" transform="translate(560 1717) rotate(90)"><tspan x="0" y="-0.6">Besluit:</tspan><tspan x="0" y="3.2">verlengen</tspan></text></g>
<g id="n7-p6"><use href="#P" x="587" y="1717"/><text class="nt" transform="translate(587 1717) rotate(90)"><tspan x="0" y="-0.6">Besluit:</tspan><tspan x="0" y="3.2">beëindigen</tspan></text></g>
<g id="n7-p7"><use href="#P" x="614" y="1717"/><text class="nt" transform="translate(614 1717) rotate(90)"><tspan x="0" y="-2.5">Besluit:</tspan><tspan x="0" y="1.3">opnieuw</tspan><tspan x="0" y="5.1">aanbesteden</tspan></text></g>
<g id="c7-3"><use href="#C" x="573" y="1748"/></g>
<g id="n7-3"><use href="#G" x="573" y="1799"/><text class="nt" transform="translate(573 1799) rotate(90)"><tspan x="0" y="-2.5">7.3</tspan><tspan x="0" y="1.3">Uitvoeren</tspan><tspan x="0" y="5.1">besluit</tspan></text></g>
<g id="r7-3"><use href="#Y" x="591" y="1799"/><text class="rt" transform="translate(591 1799) rotate(90)" y="1">Contractmanager</text></g>
<g id="n7-w1"><use href="#W" x="615" y="1799"/><text class="nt" transform="translate(615 1799) rotate(90)"><tspan x="0" y="-2.5">2</tspan><tspan x="0" y="1.3">Aangaan</tspan><tspan x="0" y="5.1">overeenkomst</tspan></text></g>
<g id="n7-p8"><use href="#P" x="573" y="1846"/><text class="nt" transform="translate(573 1846) rotate(90)"><tspan x="0" y="-0.6">Besluit</tspan><tspan x="0" y="3.2">uitgevoerd</tspan></text></g>
<g id="n7-end"><use href="#B" x="573" y="1909"/><text class="nt wt" transform="translate(573 1909) rotate(90)"><tspan x="0" y="-0.6">Contract</tspan><tspan x="0" y="3.2">beëindigd</tspan></text></g>
<g id="n7-w2"><use href="#W" x="615" y="1908"/><text class="nt" transform="translate(615 1908) rotate(90)"><tspan x="0" y="-2.5">3</tspan><tspan x="0" y="1.3">Implemen-</tspan><tspan x="0" y="5.1">teren</tspan></text></g>
<g id="n8-1"><use href="#G" x="327" y="1820"/><text class="nt" transform="translate(327 1820) rotate(90)"><tspan x="0" y="-2.5">8.1</tspan><tspan x="0" y="1.3">Archiveren</tspan><tspan x="0" y="5.1">contract</tspan></text></g>
<g id="r8-1"><use href="#Y" x="345" y="1820"/><text class="rt" transform="translate(345 1820) rotate(90)" y="1">Contractbeheer</text></g>
<g id="n8-2"><use href="#G" x="367" y="1820"/><text class="nt" transform="translate(367 1820) rotate(90)"><tspan x="0" y="-2.5">8.2</tspan><tspan x="0" y="1.3">Beheren</tspan><tspan x="0" y="5.1">register</tspan></text></g>
<g id="r8-2"><use href="#Y" x="385" y="1820"/><text class="rt" transform="translate(385 1820) rotate(90)" y="1">Contractbeheer</text></g>
<g id="n8-3"><use href="#G" x="408" y="1820"/><text class="nt" transform="translate(408 1820) rotate(90)"><tspan x="0" y="-2.5">8.3</tspan><tspan x="0" y="1.3">Beheren</tspan><tspan x="0" y="5.1">leveranciers</tspan></text></g>
<g id="r8-3"><use href="#Y" x="426" y="1820"/><text class="rt" transform="translate(426 1820) rotate(90)" y="1">Contractbeheer</text></g>
<g id="n8-p1"><use href="#P" x="327" y="1867"/><text class="nt" transform="translate(327 1867) rotate(90)"><tspan x="0" y="-0.6">Contract</tspan><tspan x="0" y="3.2">gearchiveerd</tspan></text></g>
<g id="n8-p2"><use href="#P" x="367" y="1867"/><text class="nt" transform="translate(367 1867) rotate(90)"><tspan x="0" y="-0.6">Register</tspan><tspan x="0" y="3.2">actueel</tspan></text></g>
<g id="n8-p3"><use href="#P" x="408" y="1867"/><text class="nt" transform="translate(408 1867) rotate(90)"><tspan x="0" y="-0.6">Gegevens</tspan><tspan x="0" y="3.2">actueel</tspan></text></g>
</g>

<circle id="s8-circle" cx="370" cy="1838" r="120" fill="#9ed357" opacity=".55"/>

<g id="section-titles" class="st">
<text transform="translate(555 65) rotate(90)">1. Aanvragen externe inkoop</text>
<text transform="translate(555 364) rotate(90)">2. Aangaan (raam)overeenkomst</text>
<text transform="translate(555 730) rotate(90)">3. Implementeren contract</text>
<text transform="translate(640 1177) rotate(90)">4. Monitoren contract</text>
<text transform="translate(440 1267) rotate(90)">5. Afroepen</text>
<text transform="translate(180 1410) rotate(90)">6. Verwerken en afhandelen factuur</text>
<text transform="translate(640 1585) rotate(90)">7. Wijzigen, verlengen, beëindigen contract</text>
<text transform="translate(440 1760) rotate(90)">8. Beheren administratie</text>
</g>

<g id="flow-arrows">
<g id="arrow-a">
<path class="tb" d="M605,1582C660,1620 680,1760 648,1840C620,1905 545,1925 478,1915"/>
<polygon points="481.6,1890 437,1909 474.4,1940" fill="#0b0b0b" stroke="#0b0b0b" stroke-width="4" stroke-linejoin="round"/>
<path class="tt" d="M605,1582C660,1620 680,1760 648,1840C620,1905 545,1925 478,1915"/>
<polygon points="481.6,1890 437,1909 474.4,1940" fill="#1597bd"/>
</g>
<g id="arrow-b">
<path class="tb" d="M320,1420C240,1424 190,1490 182,1600C176,1700 210,1795 285,1845"/>
<polygon points="270.7,1866 319.5,1868 299.3,1824" fill="#0b0b0b" stroke="#0b0b0b" stroke-width="4" stroke-linejoin="round"/>
<path class="tt" d="M320,1420C240,1424 190,1490 182,1600C176,1700 210,1795 285,1845"/>
<polygon points="270.7,1866 319.5,1868 299.3,1824" fill="#1597bd"/>
</g>
<g id="arrow-c">
<path class="tb" d="M95,1568C45,1610 28,1730 55,1812C80,1882 148,1908 208,1908"/>
<polygon points="208,1883 249,1908 208,1933" fill="#0b0b0b" stroke="#0b0b0b" stroke-width="4" stroke-linejoin="round"/>
<path class="tt" d="M95,1568C45,1610 28,1730 55,1812C80,1882 148,1908 208,1908"/>
<polygon points="208,1883 249,1908 208,1933" fill="#1597bd"/>
</g>
</g>
</svg>
